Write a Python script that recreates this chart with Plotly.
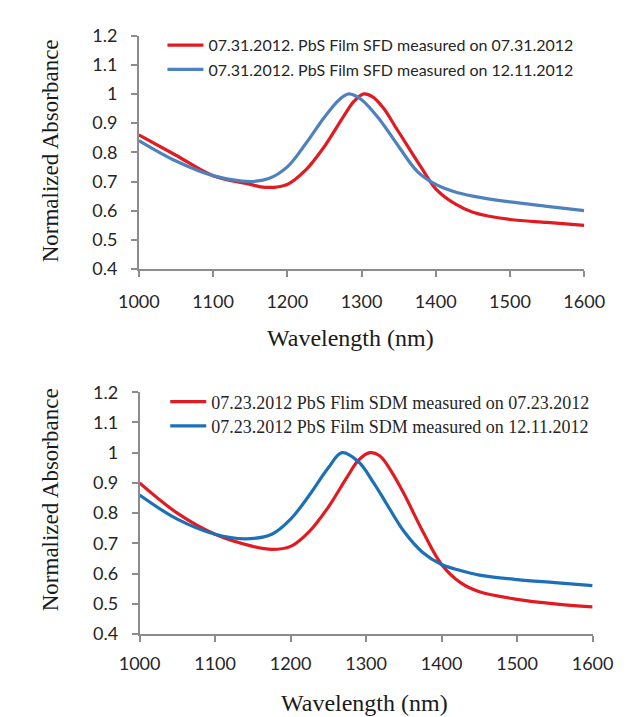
import plotly.graph_objects as go

W, H = 628, 717

# ---------------- data ----------------
wl_top_red = [1000, 1050, 1100, 1150, 1170, 1200, 1225, 1250, 1275, 1290, 1303, 1315, 1330, 1345, 1360, 1380, 1400, 1425, 1450, 1500, 1550, 1600]
ab_top_red = [0.86, 0.79, 0.72, 0.69, 0.68, 0.69, 0.74, 0.82, 0.92, 0.975, 1.00, 0.99, 0.95, 0.89, 0.83, 0.75, 0.675, 0.625, 0.595, 0.57, 0.56, 0.55]

wl_top_blue = [1000, 1050, 1100, 1150, 1175, 1200, 1225, 1250, 1270, 1283, 1300, 1325, 1350, 1375, 1400, 1425, 1450, 1500, 1550, 1600]
ab_top_blue = [0.84, 0.77, 0.72, 0.70, 0.71, 0.75, 0.83, 0.92, 0.98, 1.00, 0.98, 0.91, 0.82, 0.735, 0.69, 0.665, 0.65, 0.63, 0.615, 0.60]

wl_bot_red = [1000, 1050, 1100, 1150, 1175, 1200, 1225, 1250, 1275, 1290, 1305, 1318, 1333, 1350, 1375, 1400, 1425, 1450, 1500, 1550, 1600]
ab_bot_red = [0.90, 0.80, 0.73, 0.69, 0.68, 0.69, 0.74, 0.82, 0.92, 0.975, 1.00, 0.99, 0.94, 0.865, 0.74, 0.63, 0.57, 0.54, 0.515, 0.50, 0.49]

wl_bot_blue = [1000, 1050, 1100, 1140, 1175, 1200, 1225, 1250, 1268, 1290, 1310, 1325, 1350, 1375, 1400, 1425, 1450, 1500, 1550, 1600]
ab_bot_blue = [0.86, 0.78, 0.73, 0.715, 0.73, 0.78, 0.86, 0.95, 1.00, 0.97, 0.90, 0.84, 0.74, 0.67, 0.63, 0.61, 0.595, 0.58, 0.57, 0.56]

names_top = ["07.31.2012. PbS Film SFD measured on 07.31.2012",
             "07.31.2012. PbS Film SFD measured on 12.11.2012"]
names_bot = ["07.23.2012 PbS Flim SDM measured on 07.23.2012",
             "07.23.2012 PbS Film SDM measured on 12.11.2012"]

x_ticks = [1000, 1100, 1200, 1300, 1400, 1500, 1600]
y_ticks = [0.4, 0.5, 0.6, 0.7, 0.8, 0.9, 1.0, 1.1, 1.2]
y_ticktext = ["0.4", "0.5", "0.6", "0.7", "0.8", "0.9", "1", "1.1", "1.2"]

RED = "#E01B22"
BLUE_TOP = "#4F81BD"
BLUE_BOT = "#1C70B8"
AXIS = "#8C8C8C"


def px_x(p):
    return p / W


def px_y(p):
    return 1 - p / H


fig = go.Figure()
fig.add_trace(go.Scatter(x=wl_top_red, y=ab_top_red, name=names_top[0], mode="lines",
                         line=dict(color=RED, width=3.2, shape="spline", smoothing=1.0),
                         xaxis="x", yaxis="y", legend="legend"))
fig.add_trace(go.Scatter(x=wl_top_blue, y=ab_top_blue, name=names_top[1], mode="lines",
                         line=dict(color=BLUE_TOP, width=3.2, shape="spline", smoothing=1.0),
                         xaxis="x", yaxis="y", legend="legend2"))
fig.add_trace(go.Scatter(x=wl_bot_red, y=ab_bot_red, name=names_bot[0], mode="lines",
                         line=dict(color=RED, width=3.2, shape="spline", smoothing=1.0),
                         xaxis="x2", yaxis="y2", legend="legend3"))
fig.add_trace(go.Scatter(x=wl_bot_blue, y=ab_bot_blue, name=names_bot[1], mode="lines",
                         line=dict(color=BLUE_BOT, width=3.2, shape="spline", smoothing=1.0),
                         xaxis="x2", yaxis="y2", legend="legend4"))

tick_font = dict(family="Lato, 'Open Sans', sans-serif", size=18, color="#262626")


def xaxis_cfg(domain, anchor, standoff):
    return dict(domain=domain, anchor=anchor, range=[1000, 1600], tickvals=x_ticks,
                ticks="outside", ticklen=6, tickcolor=AXIS, tickwidth=1.5,
                showline=True, linecolor=AXIS, linewidth=1.5, showgrid=False,
                zeroline=False, tickfont=tick_font, ticklabelstandoff=standoff)


def yaxis_cfg(domain, anchor):
    return dict(domain=domain, anchor=anchor, range=[0.4, 1.2], tickvals=y_ticks,
                ticktext=y_ticktext, ticks="outside", ticklen=6, tickcolor=AXIS,
                tickwidth=1.5, showline=True, linecolor=AXIS, linewidth=1.5,
                showgrid=False, zeroline=False, tickfont=tick_font, ticklabelstandoff=10)


leg_top_font = dict(family="Lato, 'Open Sans', sans-serif", size=16, color="#262626")
leg_bot_font = dict(family="'Liberation Serif', 'Times New Roman', serif", size=18, color="#262626")


def leg(xp, yp, font):
    return dict(x=px_x(xp), y=px_y(yp), xanchor="left", yanchor="middle",
                xref="paper", yref="paper", bgcolor="rgba(0,0,0,0)", borderwidth=0,
                font=font, itemwidth=36)


xtitle_font = dict(family="'Liberation Serif', 'Times New Roman', serif", size=24, color="#1a1a1a")
ytitle_font = dict(family="'Liberation Serif', 'Times New Roman', serif", size=23, color="#1a1a1a")

fig.update_layout(
    width=W, height=H,
    margin=dict(l=0, r=0, t=0, b=0),
    paper_bgcolor="white", plot_bgcolor="white",
    showlegend=True,
    xaxis=xaxis_cfg([px_x(117.7), px_x(595)], "y", 10),
    yaxis=yaxis_cfg([px_y(257), px_y(16)], "x"),
    xaxis2=xaxis_cfg([px_x(118.5), px_x(604)], "y2", 7),
    yaxis2=yaxis_cfg([px_y(633.5), px_y(384)], "x2"),
    legend=leg(143, 26, leg_top_font),
    legend2=leg(143, 51, leg_top_font),
    legend3=leg(146, 394, leg_bot_font),
    legend4=leg(146, 419, leg_bot_font),
    annotations=[
        dict(text="Wavelength (nm)", x=px_x(345), y=px_y(328), xref="paper", yref="paper",
             showarrow=False, font=xtitle_font, xanchor="center", yanchor="middle"),
        dict(text="Wavelength (nm)", x=px_x(360), y=px_y(705), xref="paper", yref="paper",
             showarrow=False, font=xtitle_font, xanchor="center", yanchor="middle"),
        dict(text="Normalized Absorbance", x=px_x(23), y=px_y(135), xref="paper", yref="paper",
             showarrow=False, font=ytitle_font, textangle=-90, xanchor="center", yanchor="middle"),
        dict(text="Normalized Absorbance", x=px_x(23), y=px_y(495), xref="paper", yref="paper",
             showarrow=False, font=ytitle_font, textangle=-90, xanchor="center", yanchor="middle"),
    ],
)

fig.write_html("out.html")
